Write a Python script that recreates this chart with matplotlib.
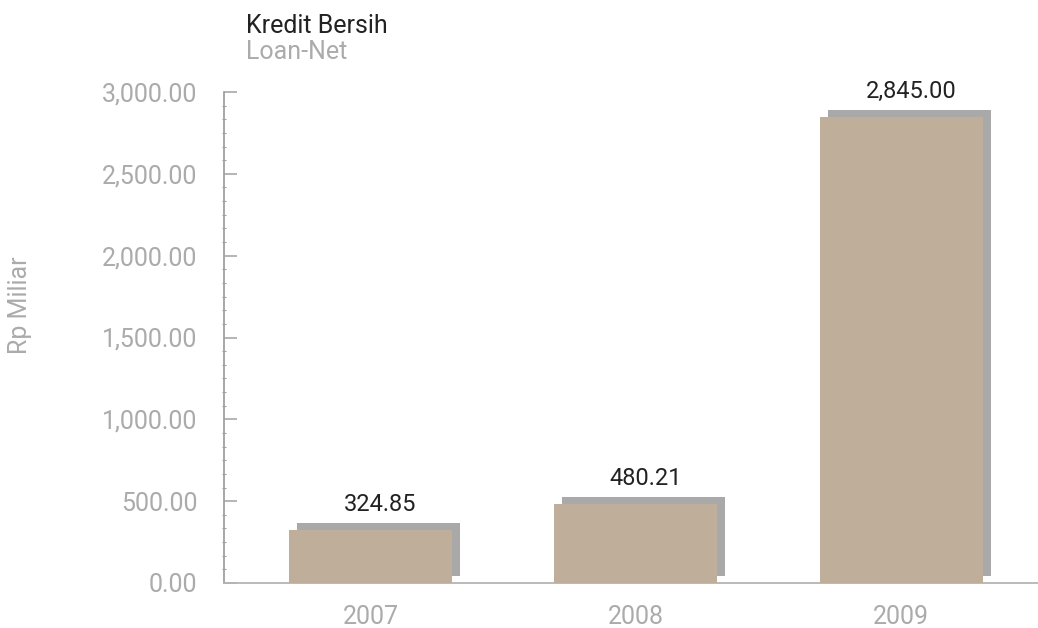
import numpy as np
import matplotlib
matplotlib.use('Agg')
import matplotlib.pyplot as plt
from matplotlib.ticker import MultipleLocator, FuncFormatter
from matplotlib.transforms import ScaledTranslation

# data
years = ['2007', '2008', '2009']
loan_net = [324.85, 480.21, 2845.00]
value_labels = ['324.85', '480.21', '2,845.00']

bar_color = '#BFAE9A'
shadow_color = '#A9A9A9'
grey_text = '#ABABAB'

plt.rcParams['font.family'] = ['Roboto', 'DejaVu Sans']

fig = plt.figure(figsize=(10.38, 6.28), dpi=100)
ax = fig.add_axes([224 / 1038, 45 / 628, 813 / 1038, 491 / 628])

x = np.arange(len(years))
width = 0.614

# shadow: same bars shifted right and up by a few pixels
shift = ax.transData + ScaledTranslation(8 / 100, 7 / 100, fig.dpi_scale_trans)
ax.bar(x, loan_net, width=width, color=shadow_color, zorder=2, transform=shift)
ax.bar(x, loan_net, width=width, color=bar_color, zorder=3)

for xi, v, lab in zip(x, loan_net, value_labels):
    ax.annotate(lab, (xi, v), xytext=(10, 19), textcoords='offset pixels',
                ha='center', va='baseline', fontsize=17, color='#222222')

ax.set_xlim(-0.552, 2.511)
ax.set_ylim(0, 3000)
ax.set_xticks(x)
ax.set_xticklabels(years)

ax.yaxis.set_major_locator(MultipleLocator(500))
ax.yaxis.set_minor_locator(MultipleLocator(500 / 6))
ax.yaxis.set_major_formatter(FuncFormatter(lambda v, p: f'{v:,.2f}'))

for s in ['top', 'right']:
    ax.spines[s].set_visible(False)
ax.spines['left'].set_color('#A0A0A0')
ax.spines['left'].set_linewidth(1.3)
ax.spines['bottom'].set_color('#B4B4B4')
ax.spines['bottom'].set_linewidth(1.3)

ax.tick_params(axis='y', which='major', direction='in', length=9, width=1.1,
               color='#A0A0A0', labelsize=18, labelcolor=grey_text, pad=19)
ax.tick_params(axis='y', which='minor', direction='inout', length=3, width=0.8,
               color='#A0A0A0')
ax.tick_params(axis='x', length=0, labelsize=18, labelcolor=grey_text, pad=16)

fig.text(246 / 1038, 1 - 33 / 628, 'Kredit Bersih', fontsize=18, color='#222222',
         va='baseline', ha='left')
fig.text(246 / 1038, 1 - 59 / 628, 'Loan-Net', fontsize=18, color=grey_text,
         va='baseline', ha='left')
fig.text(20 / 1038, 1 - 305 / 628, 'Rp Miliar', fontsize=18, color=grey_text,
         rotation=90, ha='center', va='center')

fig.savefig('out.png', dpi=100)
